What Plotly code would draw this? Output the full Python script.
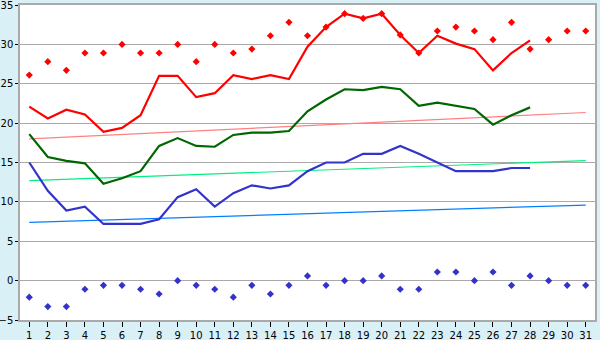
import plotly.graph_objects as go

days = list(range(1, 32))
days28 = list(range(1, 29))

record_high = [26.1, 27.8, 26.7, 28.9, 28.9, 30.0, 28.9, 28.9, 30.0, 27.8,
               30.0, 28.9, 29.4, 31.1, 32.8, 31.1, 32.2, 33.9, 33.3, 33.9,
               31.2, 28.9, 31.7, 32.2, 31.7, 30.6, 32.8, 29.4, 30.6, 31.7, 31.7]
record_low = [-2.1, -3.3, -3.3, -1.1, -0.6, -0.6, -1.1, -1.7, 0.0, -0.6,
              -1.1, -2.1, -0.6, -1.7, -0.6, 0.6, -0.6, 0.0, 0.0, 0.6,
              -1.1, -1.1, 1.1, 1.1, 0.0, 1.1, -0.6, 0.6, 0.0, -0.6, -0.6]
tmax = [22.1, 20.6, 21.7, 21.1, 18.9, 19.4, 21.0, 26.0, 26.0, 23.3,
        23.8, 26.1, 25.6, 26.1, 25.6, 29.7, 32.2, 33.9, 33.3, 33.9,
        31.2, 28.9, 31.1, 30.1, 29.4, 26.7, 28.9, 30.5]
tmean = [18.6, 15.7, 15.2, 14.9, 12.3, 13.0, 13.9, 17.1, 18.1, 17.1,
         17.0, 18.5, 18.8, 18.8, 19.0, 21.5, 23.0, 24.3, 24.2, 24.6,
         24.3, 22.2, 22.6, 22.2, 21.8, 19.8, 21.0, 22.0]
tmin = [15.0, 11.4, 8.9, 9.4, 7.2, 7.2, 7.2, 7.8, 10.6, 11.6,
        9.4, 11.1, 12.1, 11.7, 12.1, 13.9, 15.0, 15.0, 16.1, 16.1,
        17.1, 16.1, 15.0, 13.9, 13.9, 13.9, 14.3, 14.3]
trend_days = [1, 31]
trend_max = [18.0, 21.35]
trend_mean = [12.7, 15.25]
trend_min = [7.4, 9.6]

y_ticks = [-5, 0, 5, 10, 15, 20, 25, 30, 35]

fig = go.Figure()
fig.add_trace(go.Scatter(x=trend_days, y=trend_max, mode="lines",
                         line=dict(color="#ff8080", width=1.2)))
fig.add_trace(go.Scatter(x=trend_days, y=trend_mean, mode="lines",
                         line=dict(color="#00f080", width=1.2)))
fig.add_trace(go.Scatter(x=trend_days, y=trend_min, mode="lines",
                         line=dict(color="#0080ff", width=1.2)))
fig.add_trace(go.Scatter(x=days28, y=tmax, mode="lines",
                         line=dict(color="#ff0000", width=2.2)))
fig.add_trace(go.Scatter(x=days28, y=tmean, mode="lines",
                         line=dict(color="#006600", width=2.2)))
fig.add_trace(go.Scatter(x=days28, y=tmin, mode="lines",
                         line=dict(color="#3333cc", width=2.2)))
fig.add_trace(go.Scatter(x=days, y=record_high, mode="markers",
                         marker=dict(symbol="diamond", size=5.5, color="#ff0000",
                                     line=dict(width=0))))
fig.add_trace(go.Scatter(x=days, y=record_low, mode="markers",
                         marker=dict(symbol="diamond", size=5.5, color="#3333cc",
                                     line=dict(width=0))))

fig.update_layout(
    width=600, height=340,
    margin=dict(l=20, r=5, t=5, b=20),
    paper_bgcolor="#daf0f7",
    plot_bgcolor="#ffffff",
    showlegend=False,
    font=dict(family="DejaVu Sans", size=10, color="#000000"),
)
fig.update_xaxes(
    range=[0.5, 31.5], tickmode="array", tickvals=days,
    ticktext=[str(d) for d in days],
    showgrid=False, zeroline=False, automargin=False,
    showline=True, linecolor="#aaaaaa", linewidth=1.5, mirror=True,
    ticks="outside", ticklen=5, tickcolor="#000000", tickwidth=1,
    ticklabelstandoff=0, ticklabeloverflow="allow",
)
fig.update_yaxes(
    range=[-5, 35], tickmode="array", tickvals=y_ticks,
    showgrid=True, gridcolor="#aaaaaa", gridwidth=1.2, zeroline=False,
    automargin=False,
    showline=True, linecolor="#aaaaaa", linewidth=1.5, mirror=True,
    ticks="outside", ticklen=3, tickcolor="#000000", tickwidth=1,
    ticklabelstandoff=0, ticklabeloverflow="allow",
)
fig.write_html("out.html")
